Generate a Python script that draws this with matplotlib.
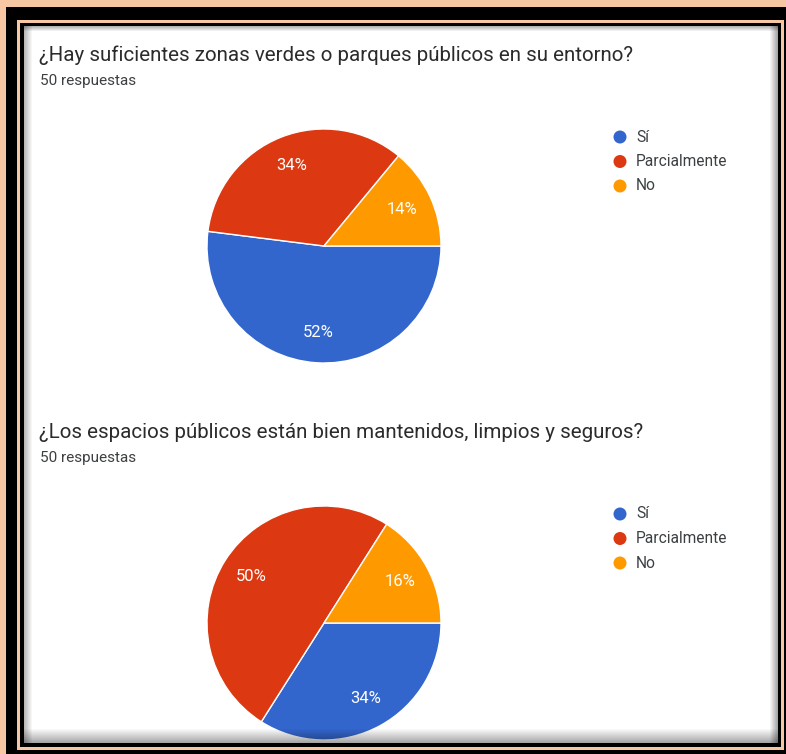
import matplotlib.pyplot as plt
from matplotlib.patches import Rectangle, Circle

W, H = 786, 754

opciones = ['Sí', 'Parcialmente', 'No']
colores = ['#3366CC', '#DC3912', '#FF9900']
respuestas = '50 respuestas'

pregunta1 = '¿Hay suficientes zonas verdes o parques públicos en su entorno?'
pct1 = [52, 34, 14]

pregunta2 = '¿Los espacios públicos están bien mantenidos, limpios y seguros?'
pct2 = [34, 50, 16]

plt.rcParams['font.family'] = ['Roboto', 'DejaVu Sans']

fig = plt.figure(figsize=(W / 100, H / 100), dpi=100)
ax = fig.add_axes([0, 0, 1, 1])


def Y(y):
    # pixel rows are counted from the top
    return H - y


def rect(x0, y0, x1, y1, color, **kw):
    r = Rectangle((x0, Y(y1)), x1 - x0, y1 - y0, facecolor=color,
                  edgecolor='none', **kw)
    ax.add_patch(r)
    return r


# frame: peach / black / peach / black around a white panel
rect(0, 0, W, H, '#F7C6A3')
rect(6, 7, W, H, '#000000')
rect(17, 20, 784, 750, '#F7C6A3')
rect(20, 23, 781, 747, '#000000')
panel = rect(24, 26, 778, 743, '#FFFFFF')


def pie_block(titulo, pct, cy, title_y):
    ax.text(39, Y(title_y), titulo, fontsize=14.8, color='#2b2b2b',
            va='center', ha='left')
    ax.text(40, Y(title_y + 26), respuestas, fontsize=11, color='#3c4043',
            va='center', ha='left')
    wedges, _, autotexts = ax.pie(
        pct, colors=colores, startangle=0, counterclock=False,
        center=(324, Y(cy)), radius=117, frame=True,
        autopct=lambda p: f'{p:.0f}%', pctdistance=0.74,
        wedgeprops=dict(edgecolor='white', linewidth=1),
        textprops=dict(color='white', fontsize=12))
    for w in wedges:
        w.set_clip_path(panel)
    for t in autotexts:
        t.set_clip_path(panel)
    ly = cy - 109
    for i, (lab, col) in enumerate(zip(opciones, colores)):
        yy = ly + i * 24.5
        ax.add_patch(Circle((620, Y(yy)), 6.5, facecolor=col, edgecolor='none'))
        ax.text(636, Y(yy), lab, fontsize=11.2, color='#3c4043',
                va='center', ha='left')


pie_block(pregunta1, pct1, 246, 55)
pie_block(pregunta2, pct2, 623, 432)

# soft inner shadow along the panel edges
for i in range(14):
    a = 0.35 * (1 - i / 14)
    rect(24, 743 - i - 1, 778, 743 - i, 'black', alpha=a, zorder=5)
for i in range(8):
    a = 0.35 * (1 - i / 8)
    rect(778 - i - 1, 26, 778 - i, 743, 'black', alpha=a, zorder=5)
    rect(24 + i, 26, 24 + i + 1, 743, 'black', alpha=a * 0.8, zorder=5)
for i in range(5):
    a = 0.3 * (1 - i / 5)
    rect(24, 26 + i, 778, 26 + i + 1, 'black', alpha=a, zorder=5)

ax.set_xlim(0, W)
ax.set_ylim(0, H)
ax.set_aspect('auto')
ax.axis('off')

fig.savefig('out.png', dpi=100)
